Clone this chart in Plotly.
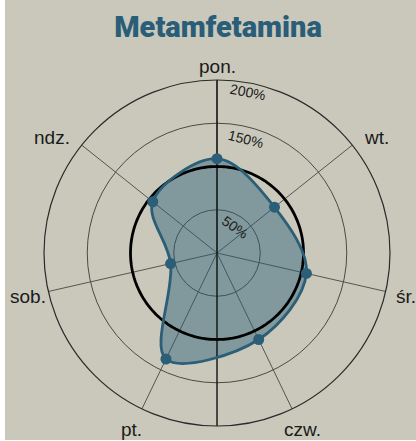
import numpy as np
import plotly.graph_objects as go

# ---- data ----
days = ["pon.", "wt.", "śr.", "czw.", "pt.", "sob.", "ndz."]
values = [109, 85, 106, 111, 136, 55, 95]
grid_ticks = [50, 150]
tick_labels = [50, 150, 200]
reference_level = 100
r_max = 200

OFF_X = 5            # white strip on the left of the page
W, H = 411, 440      # figure size
CX, CY, R = 212, 253, 173  # polar centre / radius in figure px

BG = "#c9c8bb"
BLUE = "#2b5e77"

thetas = [i * 360 / len(days) for i in range(len(days))]

fig = go.Figure()

# filled area
fig.add_trace(go.Scatterpolar(
    r=values + values[:1], theta=thetas + thetas[:1],
    mode="lines", line=dict(color="rgba(0,0,0,0)", width=0, shape="spline", smoothing=1.0),
    fill="toself", fillcolor="rgba(43,94,119,0.45)", hoverinfo="skip", showlegend=False))

# vertical axis line (top and bottom)
fig.add_trace(go.Scatterpolar(
    r=[r_max, 0, r_max], theta=[0, 0, 180], mode="lines",
    line=dict(color="#111111", width=1.4), hoverinfo="skip", showlegend=False))

# 100% reference circle
circ_t = list(np.linspace(0, 360, 241))
fig.add_trace(go.Scatterpolar(
    r=[reference_level] * len(circ_t), theta=circ_t, mode="lines",
    line=dict(color="#000000", width=2.8), hoverinfo="skip", showlegend=False))

# data line + markers
fig.add_trace(go.Scatterpolar(
    r=values + values[:1], theta=thetas + thetas[:1],
    mode="lines", line=dict(color=BLUE, width=2.8, shape="spline", smoothing=1.0),
    hoverinfo="skip", showlegend=False))
fig.add_trace(go.Scatterpolar(
    r=values, theta=thetas, mode="markers",
    marker=dict(color=BLUE, size=11), showlegend=False))

dom_x = [(CX - R) / W, (CX + R) / W]
dom_y = [(H - CY - R) / H, (H - CY + R) / H]

fig.update_layout(
    width=W, height=H,
    margin=dict(l=0, r=0, t=0, b=0),
    paper_bgcolor=BG,
    title=dict(text="Metamfetamina", x=213 / W, xanchor="center",
               y=1 - 27 / H, yanchor="middle", yref="container",
               font=dict(family="Roboto", size=29, color="#2a5d78", weight=900)),
    polar=dict(
        domain=dict(x=dom_x, y=dom_y),
        bgcolor=BG,
        radialaxis=dict(range=[0, r_max], tickvals=grid_ticks, showticklabels=False,
                        showline=False, ticks="", gridcolor="#4a4a48", gridwidth=0.8),
        angularaxis=dict(rotation=90, direction="clockwise", tickvals=thetas, ticktext=days,
                         showticklabels=False,
                         ticks="", showline=True, linecolor="#2a2a2a", linewidth=1.2,
                         gridcolor="#555552", gridwidth=0.8),
    ),
)

# day labels just outside the outer ring
for t, d in zip(thetas, days):
    a = np.radians(t)
    s, c = np.sin(a), np.cos(a)
    if c > 0.9:                     # top
        xa, rl = "center", R + 14
    elif c > 0.5:                   # upper diagonals
        xa, rl = ("left" if s > 0 else "right"), R + 13
    elif c > -0.5:                  # sides
        xa, rl = "center", R + 21
    else:                           # bottom
        xa, rl = "center", R + 23
    x = CX + rl * s
    y = CY - rl * c
    fig.add_annotation(text=d, x=x / W, y=1 - y / H, xref="paper", yref="paper",
                       xanchor=xa, yanchor="middle", showarrow=False,
                       font=dict(family="Liberation Sans", size=19, color="#1a1a1a"))

# radial tick labels, placed just inside each ring, right of the vertical axis, rotated along it
for v in tick_labels:
    rr = v / r_max * R - 12 + (3 if v == r_max else 0)
    half = 19 if v >= 100 else 13
    arc = half + 4 + 4 * v / 100
    a = arc / rr
    x = CX + rr * np.sin(a)
    y = CY - rr * np.cos(a)
    fig.add_annotation(text=f"{v}%", x=x / W, y=1 - y / H, xref="paper", yref="paper",
                       xanchor="center", yanchor="middle",
                       showarrow=False, textangle=np.degrees(a),
                       font=dict(family="Liberation Sans", size=14, color="#1a1a1a"))

post = ("document.body.style.margin='0';"
        "document.body.style.padding='0 0 0 %dpx';"
        "document.body.style.background='#ffffff';"
        "document.body.style.overflow='hidden';" % OFF_X)
fig.write_html("out.html", post_script=post)
